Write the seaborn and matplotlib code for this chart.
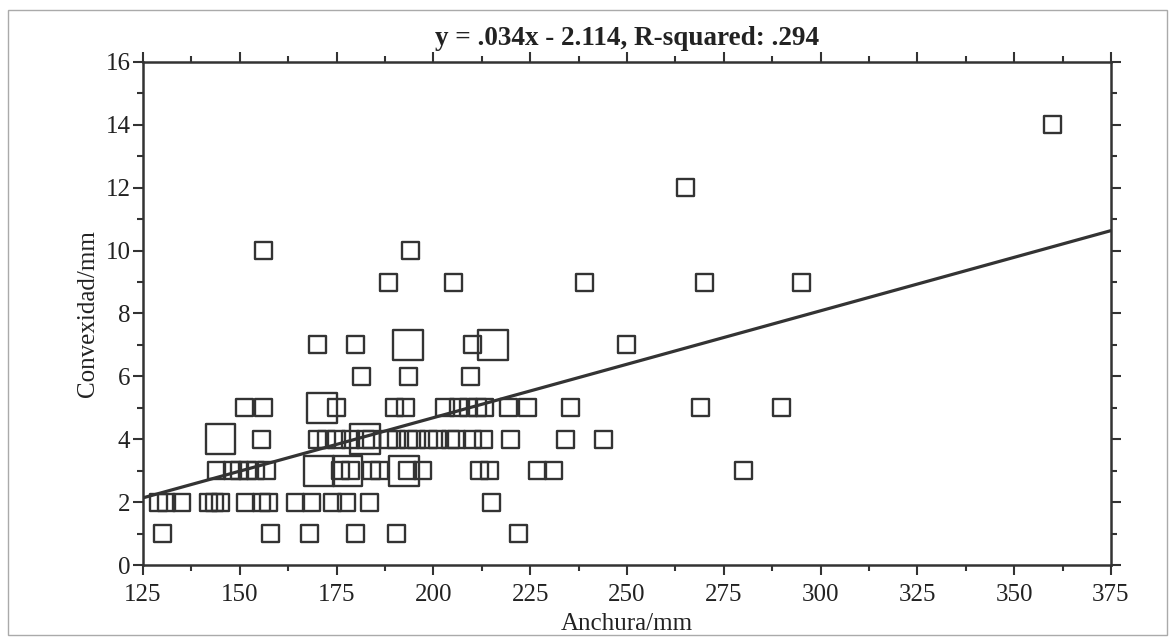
import pandas as pd
import numpy as np
import seaborn as sns
from matplotlib import pyplot as plt
from matplotlib.patches import Rectangle
from matplotlib.ticker import MultipleLocator

# values (n = 2 where the square is drawn bigger)
anchura = [130, 158, 168, 180, 190.5, 222,
           129, 131, 135, 142, 143.5, 145, 151.5, 155.5, 157.5, 164.5, 168.5,
           174, 177.5, 183.5, 215,
           144, 148, 150, 152, 154, 157, 170.5, 176, 178.5, 177.8, 184, 186,
           192.4, 193.2, 197.3, 212, 214.6, 227, 231, 280,
           145, 155.7, 170, 172.4, 175, 178.5, 182.4, 182.4, 184, 188.4, 190.6,
           193.5, 195.7, 198.7, 201, 204.3, 206, 210, 213, 220, 234, 244,
           151.3, 156.2, 171.3, 175, 190, 192.7, 203, 206.4, 209, 211.5, 213.3,
           219.3, 224.4, 235.5, 269, 290,
           181.5, 193.5, 209.7,
           170, 180, 193.4, 210, 215.3, 250,
           188.4, 205.3, 239, 270, 295,
           156, 194.2,
           265,
           360]
convexidad = [1] * 6 + [2] * 15 + [3] * 20 + [4] * 22 + [5] * 16 + [6] * 3 \
    + [7] * 6 + [9] * 5 + [10] * 2 + [12] + [14]
conteo = [1] * 6 + [1] * 15 \
    + [1, 1, 1, 1, 1, 1, 2, 1, 1, 2, 1, 1, 2, 1, 1, 1, 1, 1, 1, 1] \
    + [2, 1, 1, 1, 1, 1, 2] + [1] * 15 \
    + [1, 1, 2] + [1] * 13 \
    + [1, 1, 1] \
    + [1, 1, 2, 1, 2, 1] \
    + [1] * 5 + [1, 1] + [1] + [1]

# regression line from the title
pendiente = 0.034
intercepto = -2.114
titulo = 'y = .034x - 2.114, R-squared: .294'

df = pd.DataFrame({'Anchura': anchura, 'Convexidad': convexidad, 'n': conteo})

sns.set_theme(style='white')
plt.rcParams['font.family'] = ['Liberation Serif', 'DejaVu Serif']

ink = '#333333'
fig = plt.figure(figsize=(11.75, 6.39), dpi=100)
ax = fig.add_axes([0.1217, 0.1158, 0.8238, 0.7872])

sns.scatterplot(data=df, x='Anchura', y='Convexidad', size='n',
                sizes={1: 150, 2: 460}, marker='s', facecolor='none',
                edgecolor=ink, linewidth=1.7, legend=False, ax=ax, zorder=3)

xs = np.array([125, 375])
ax.plot(xs, pendiente * xs + intercepto, color=ink, lw=2.3, zorder=4)

ax.set_xlim(125, 375)
ax.set_ylim(0, 16)
ax.xaxis.set_major_locator(MultipleLocator(25))
ax.xaxis.set_minor_locator(MultipleLocator(12.5))
ax.yaxis.set_major_locator(MultipleLocator(2))
ax.yaxis.set_minor_locator(MultipleLocator(1))
ax.tick_params(which='both', direction='out', color=ink, width=1.5,
               bottom=True, left=True, top=True, right=True,
               labeltop=False, labelright=False,
               labelsize=18, labelcolor='#222222')
ax.tick_params(which='major', length=7, pad=2)
ax.tick_params(which='minor', length=4)
ax.tick_params(axis='x', which='major', pad=7)
for sp in ax.spines.values():
    sp.set_color(ink)
    sp.set_linewidth(1.8)

ax.set_xlabel('Anchura/mm', fontsize=18, color='#222222', labelpad=5)
ax.set_ylabel('Convexidad/mm', fontsize=18, color='#222222', labelpad=5)
ax.set_title(titulo, fontsize=19.5, fontweight='bold', color='#222222', pad=12)

# thin frame round the whole picture
fig.patches.append(Rectangle((0.007, 0.006), 0.986, 0.978, transform=fig.transFigure,
                             fill=False, edgecolor='#aaaaaa', lw=1))

fig.savefig('out.png', dpi=100)
